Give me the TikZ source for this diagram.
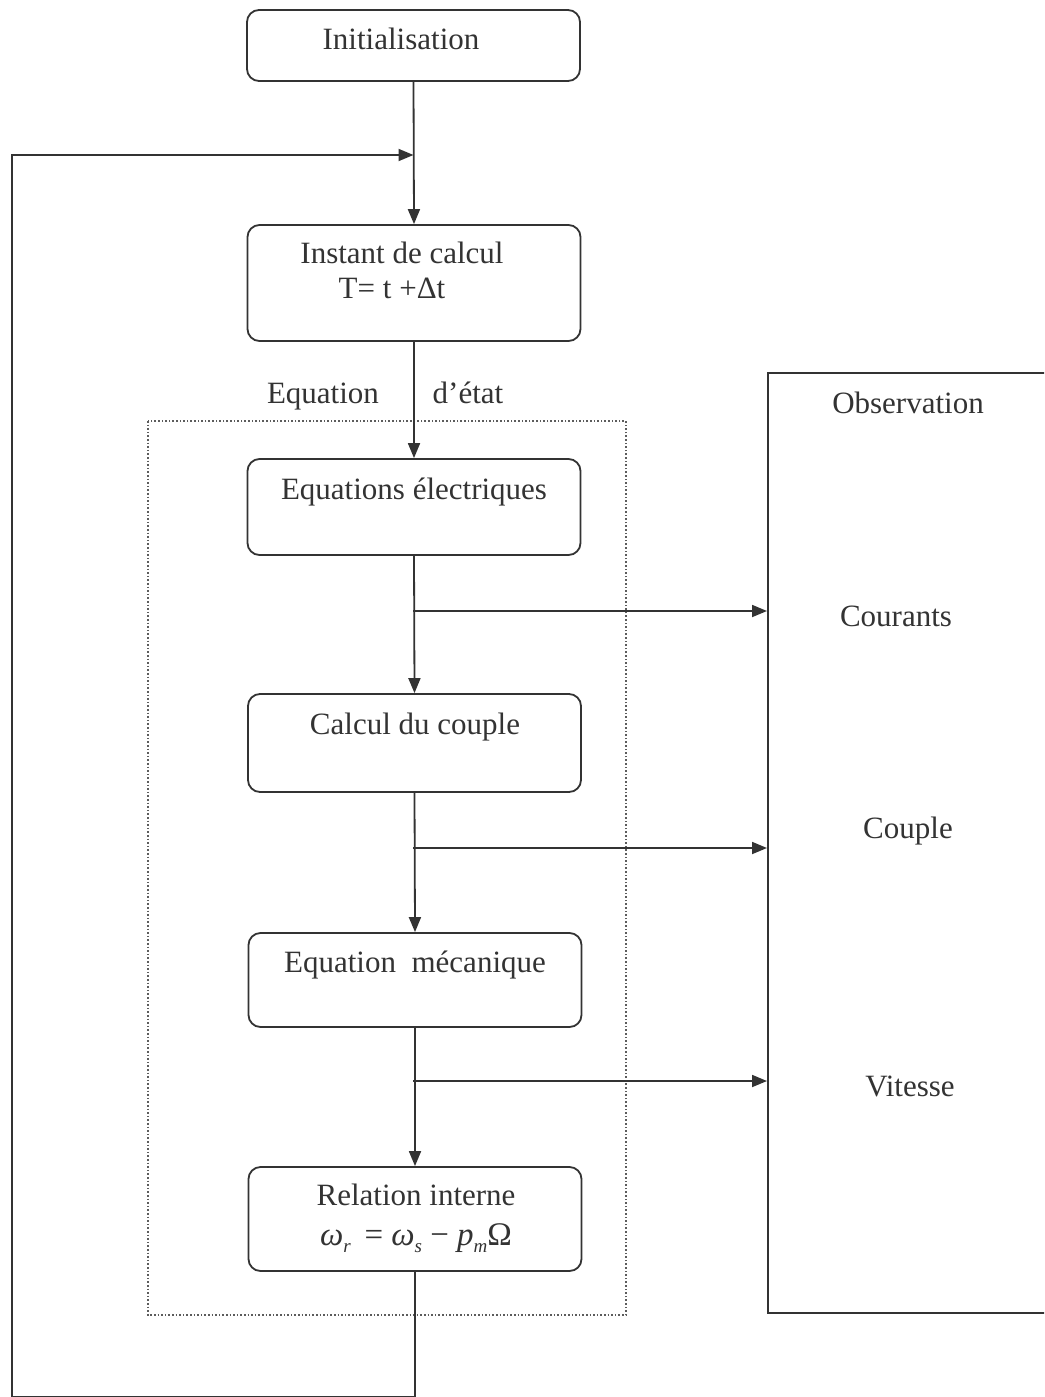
\documentclass[tikz,border=0pt]{standalone}
\usepackage{fontspec}
\setmainfont{Liberation Serif}
\usetikzlibrary{arrows.meta}
\definecolor{ink}{HTML}{333333}
% italic symbol with a lowered italic index
\newcommand{\symsub}[2]{\textit{#1}\raisebox{-7pt}{\fontsize{19}{19}\selectfont\textit{#2}}}
\begin{document}
\begin{tikzpicture}[x=1pt,y=-1pt,
  stepbox/.style={draw=ink, line width=1.8pt, rounded corners=12pt, minimum width=333pt, inner sep=0pt},
  txt/.style={anchor=base, text=ink, font=\fontsize{31}{36}\selectfont, inner sep=0pt},
  flow/.style={draw=ink, line width=1.8pt, -{Triangle[length=15pt,width=12pt]}},
  zone/.style={draw=ink!80, line width=1.6pt, dotted}]
\useasboundingbox (0,0) rectangle (1044,1397);
\clip (0,0) rectangle (1044,1397);
\fill[white] (0,0) rectangle (1044,1397);

% observation panel (its right side runs off the page)
\node[draw=ink, line width=1.8pt, minimum width=300pt, minimum height=940pt, inner sep=0pt, anchor=north west] (obs) at (767,372) {};
\node[txt] (obsT) at (908,413) {Observation};
\node[txt] (courT) at (896,626) {Courants};
\node[txt] (coupT) at (908,838) {Couple};
\node[txt] (vitT) at (910,1096) {Vitesse};

% dotted frame around the state equations
\draw[zone] (148,421) rectangle (626,1315);

% process boxes
\node[stepbox, minimum height=71pt] (init) at (413.5,45.5) {};
\node[txt] (initT) at (401,50) {Initialisation};

\node[stepbox, minimum height=116pt] (inst) at (414,283) {};
\node[txt] (instT1) at (402,263) {Instant de calcul};
\node[txt] (instT2) at (392,298) {T= t +Δt};

\node[stepbox, minimum height=96pt] (elec) at (414,507) {};
\node[txt] (elecT) at (414,499) {Equations électriques};

\node[stepbox, minimum height=98pt] (coup) at (414.5,743) {};
\node[txt] (coupB) at (415,734) {Calcul du couple};

\node[stepbox, minimum height=94pt] (meca) at (415,980) {};
\node[txt] (mecaT) at (415,972) {Equation\ \ mécanique};

\node[stepbox, minimum height=104pt] (rel) at (415,1219) {};
\node[txt] (relT1) at (416,1205) {Relation interne};
\node[txt, font=\fontsize{33}{36}\selectfont] (relT2) at (416,1245)
  {\symsub{ω}{r}\ \,= \symsub{ω}{s}\ − \symsub{p}{m}Ω};

% labels on the state-equation arrow
\node[txt] (eqL) at (323,403) {Equation};
\node[txt] (eqR) at (468,403) {d’état};

% main flow
\coordinate (join) at (init.south |- 0,155);
\coordinate (corner) at (12,1397);
\draw[flow] (init.south) -- (inst.north);
\draw[flow] (inst.south) -- (elec.north);
\draw[flow] (elec.south) -- (coup.north);
\draw[flow] (coup.south) -- (meca.north);
\draw[flow] (meca.south) -- (rel.north);

% feedback loop to the next time step
\draw[flow] (rel.south) |- (corner) |- (join);

% outputs to observation
\coordinate (o1) at (413,611);
\coordinate (o2) at (413,848);
\coordinate (o3) at (413,1081);
\draw[flow] (o1) -- (obs.west |- o1);
\draw[flow] (o2) -- (obs.west |- o2);
\draw[flow] (o3) -- (obs.west |- o3);
\end{tikzpicture}
\end{document}
